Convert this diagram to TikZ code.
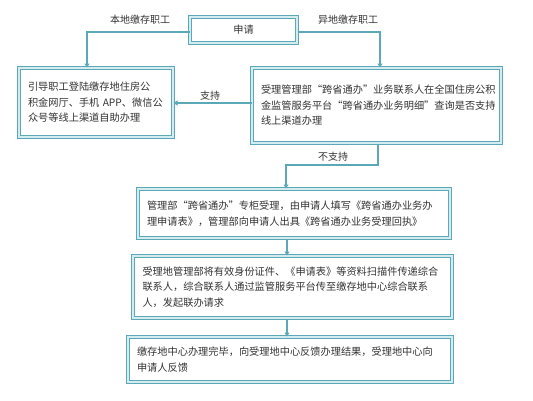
\documentclass[tikz,border=0pt]{standalone}
\usepackage{fontspec}
\setmainfont{Noto Sans CJK SC}
\usetikzlibrary{arrows.meta}
\definecolor{edge}{HTML}{5BA8B8}
\definecolor{inner}{HTML}{D4ECF0}
\definecolor{txt}{HTML}{333333}
\tikzset{
  box/.style={draw=edge, line width=1pt, double=inner, double distance=1.3pt,
    fill=white, text=txt, align=left, anchor=center, inner sep=0pt,
    font=\fontsize{10.2}{15.5}\selectfont},
  conn/.style={draw=edge, line width=1.8pt, -{Triangle[length=4pt,width=5pt]}},
  lab/.style={text=txt, font=\fontsize{10}{12}\selectfont, inner sep=1pt}
}
\begin{document}
\begin{tikzpicture}[x=1pt,y=-1pt]
\useasboundingbox (0,0) rectangle (533,400);
\node[box, minimum width=107pt, minimum height=26pt, align=center] (apply) at (243.5,30) {申请};
\node[box, minimum width=154pt, minimum height=69pt, text width=136pt] (local) at (96,102.5)
  {引导职工登陆缴存地住房公\\积金网厅、手机 APP、微信公\\众号等线上渠道自助办理};
\node[box, minimum width=249pt, minimum height=75pt, text width=231pt] (remote) at (376.5,105.5)
  {受理管理部“跨省通办”业务联系人在全国住房公积\\金监管服务平台“跨省通办业务明细”查询是否支持\\线上渠道办理};
\node[box, minimum width=312pt, minimum height=49pt, text width=294pt] (counter) at (294,213.5)
  {管理部“跨省通办”专柜受理，由申请人填写《跨省通办业务办\\理申请表》，管理部向申请人出具《跨省通办业务受理回执》};
\node[box, minimum width=319pt, minimum height=62pt, text width=300pt] (scan) at (292.5,287)
  {受理地管理部将有效身份证件、《申请表》等资料扫描件传递综合\\联系人，综合联系人通过监管服务平台传至缴存地中心综合联系\\人，发起联办请求};
\node[box, minimum width=324pt, minimum height=45pt, text width=306pt] (done) at (290,359.5)
  {缴存地中心办理完毕，向受理地中心反馈办理结果，受理地中心向\\申请人反馈};
\coordinate (c1) at (87,32);
\coordinate (c2) at (380,32);
\coordinate (c3) at (378,165);
\coordinate (c4) at (286,165);
\draw[conn] (apply.west |- c1) -- (c1) -- (c1 |- local.north);
\draw[conn] (apply.east |- c2) -- (c2) -- (c2 |- remote.north);
\draw[conn] (remote.west |- 0,103) -- (local.east |- 0,103);
\draw[conn] (c3 |- remote.south) -- (c3) -- (c4) -- (c4 |- counter.north);
\draw[conn] (287,0 |- counter.south) -- (287,0 |- scan.north);
\draw[conn] (287,0 |- scan.south) -- (287,0 |- done.north);
\node[lab] (l1) at (140,20) {本地缴存职工};
\node[lab] (l2) at (348,20) {异地缴存职工};
\node[lab] (l3) at (210,96) {支持};
\node[lab] (l4) at (333,157) {不支持};
\end{tikzpicture}
\end{document}
